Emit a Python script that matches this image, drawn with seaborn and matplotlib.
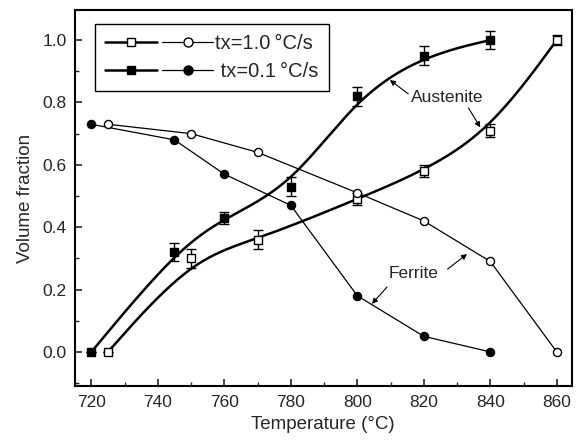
import numpy as np
import pandas as pd
import matplotlib
matplotlib.use("Agg")
import matplotlib.pyplot as plt
import seaborn as sns
from matplotlib.lines import Line2D
from matplotlib.legend_handler import HandlerTuple
from matplotlib.ticker import MultipleLocator

# ---- data ----
aus_fast_T = [725, 750, 770, 800, 820, 840, 860]
aus_fast_V = [0.00, 0.30, 0.36, 0.49, 0.58, 0.71, 1.00]
aus_fast_E = [0.0, 0.03, 0.03, 0.02, 0.02, 0.02, 0.015]

aus_slow_T = [720, 745, 760, 780, 800, 820, 840]
aus_slow_V = [0.00, 0.32, 0.43, 0.53, 0.82, 0.95, 1.00]
aus_slow_E = [0.0, 0.03, 0.02, 0.03, 0.03, 0.03, 0.03]

fer_fast_T = [725, 750, 770, 800, 820, 840, 860]
fer_fast_V = [0.73, 0.70, 0.64, 0.51, 0.42, 0.29, 0.00]

fer_slow_T = [720, 745, 760, 780, 800, 820, 840]
fer_slow_V = [0.73, 0.68, 0.57, 0.47, 0.18, 0.05, 0.00]

x_ticks = [720, 740, 760, 780, 800, 820, 840, 860]
y_ticks = [0.0, 0.2, 0.4, 0.6, 0.8, 1.0]
labels = ["tx=1.0\u2009°C/s", " tx=0.1\u2009°C/s"]


def bspline(x, y, n=50):
    P = np.column_stack([x, y]).astype(float)
    P = np.vstack([P[:1], P[:1], P, P[-1:], P[-1:]])
    t = np.linspace(0, 1, n)[:, None]
    segs = []
    for i in range(len(P) - 3):
        a, b, c, d = P[i:i + 4]
        B = ((1 - t) ** 3 * a + (3 * t ** 3 - 6 * t ** 2 + 4) * b
             + (-3 * t ** 3 + 3 * t ** 2 + 3 * t + 1) * c + t ** 3 * d) / 6
        segs.append(B)
    S = np.vstack(segs)
    return S[:, 0], S[:, 1]


sns.set_style("ticks")
plt.rcParams["font.family"] = ["Liberation Sans", "DejaVu Sans"]

fig = plt.figure(figsize=(5.84, 4.47), dpi=100)
ax = fig.add_axes([0.128, 0.136, 0.851, 0.842])

# smooth austenite curves
for T, V in [(aus_fast_T, aus_fast_V), (aus_slow_T, aus_slow_V)]:
    sx, sy = bspline(T, V)
    sns.lineplot(x=sx, y=sy, ax=ax, sort=False, color="black", lw=1.8, estimator=None)

# ferrite lines
sns.lineplot(x=fer_fast_T, y=fer_fast_V, ax=ax, color="black", lw=0.9, estimator=None)
sns.lineplot(x=fer_slow_T, y=fer_slow_V, ax=ax, color="black", lw=0.9, estimator=None)

# error bars
ax.errorbar(aus_fast_T, aus_fast_V, yerr=aus_fast_E, fmt="none", ecolor="black",
            elinewidth=1.0, capsize=3.5, capthick=1.0, zorder=3)
ax.errorbar(aus_slow_T, aus_slow_V, yerr=aus_slow_E, fmt="none", ecolor="black",
            elinewidth=1.0, capsize=3.5, capthick=1.0, zorder=3)

# markers
sns.scatterplot(x=aus_fast_T, y=aus_fast_V, ax=ax, marker="s", s=30,
                facecolor="white", edgecolor="black", linewidth=1.0, zorder=4)
sns.scatterplot(x=aus_slow_T, y=aus_slow_V, ax=ax, marker="s", s=30,
                color="black", edgecolor="black", linewidth=1.0, zorder=4)
sns.scatterplot(x=fer_fast_T, y=fer_fast_V, ax=ax, marker="o", s=34,
                facecolor="white", edgecolor="black", linewidth=1.0, zorder=4)
sns.scatterplot(x=fer_slow_T, y=fer_slow_V, ax=ax, marker="o", s=34,
                color="black", edgecolor="black", linewidth=1.0, zorder=4)

ax.set_xlim(715, 864.5)
ax.set_ylim(-0.11, 1.097)
ax.set_xticks(x_ticks)
ax.set_yticks(y_ticks)
ax.set_yticklabels([f"{v:.1f}" for v in y_ticks])
ax.xaxis.set_minor_locator(MultipleLocator(10))
ax.yaxis.set_minor_locator(MultipleLocator(0.1))
ax.tick_params(which="major", direction="in", length=5, width=1.2, labelsize=12.5,
               top=False, right=False, pad=6)
ax.tick_params(which="minor", direction="in", length=3, width=1.0, top=False, right=False)
for sp in ax.spines.values():
    sp.set_visible(True)
    sp.set_linewidth(1.5)
    sp.set_color("black")

ax.set_xlabel("Temperature (°C)", fontsize=13.5, labelpad=5)
ax.set_ylabel("Volume fraction", fontsize=13.5, labelpad=6)

# annotations
arrow = dict(arrowstyle="-|>", color="black", lw=0.8, mutation_scale=8, shrinkA=2, shrinkB=0)
ax.text(827, 0.815, "Austenite", fontsize=12.5, ha="center", va="center")
ax.annotate("", xy=(809.8, 0.872), xytext=(816.0, 0.822), arrowprops=arrow)
ax.annotate("", xy=(837.0, 0.720), xytext=(833.0, 0.790), arrowprops=arrow)
ax.text(817, 0.25, "Ferrite", fontsize=12.5, ha="center", va="center")
ax.annotate("", xy=(833.0, 0.314), xytext=(826.5, 0.26), arrowprops=arrow)
ax.annotate("", xy=(804.4, 0.154), xytext=(809.5, 0.215), arrowprops=arrow)

# legend
h_sq_o = Line2D([], [], color="black", lw=1.8, marker="s", ms=6, mfc="white", mec="black")
h_ci_o = Line2D([], [], color="black", lw=0.9, marker="o", ms=6.5, mfc="white", mec="black")
h_sq_f = Line2D([], [], color="black", lw=1.8, marker="s", ms=6, mfc="black", mec="black")
h_ci_f = Line2D([], [], color="black", lw=0.9, marker="o", ms=6.5, mfc="black", mec="black")
leg = ax.legend([(h_sq_o, h_ci_o), (h_sq_f, h_ci_f)], labels,
                handler_map={tuple: HandlerTuple(ndivide=None, pad=0.25)},
                loc="upper left", bbox_to_anchor=(0.04, 0.963), borderaxespad=0,
                fontsize=14.5, handlelength=5.4, handletextpad=0.1, borderpad=0.5,
                labelspacing=0.45, frameon=True, fancybox=False, framealpha=1,
                edgecolor="black")
leg.get_frame().set_linewidth(1.0)

fig.savefig("out.png", dpi=100)
